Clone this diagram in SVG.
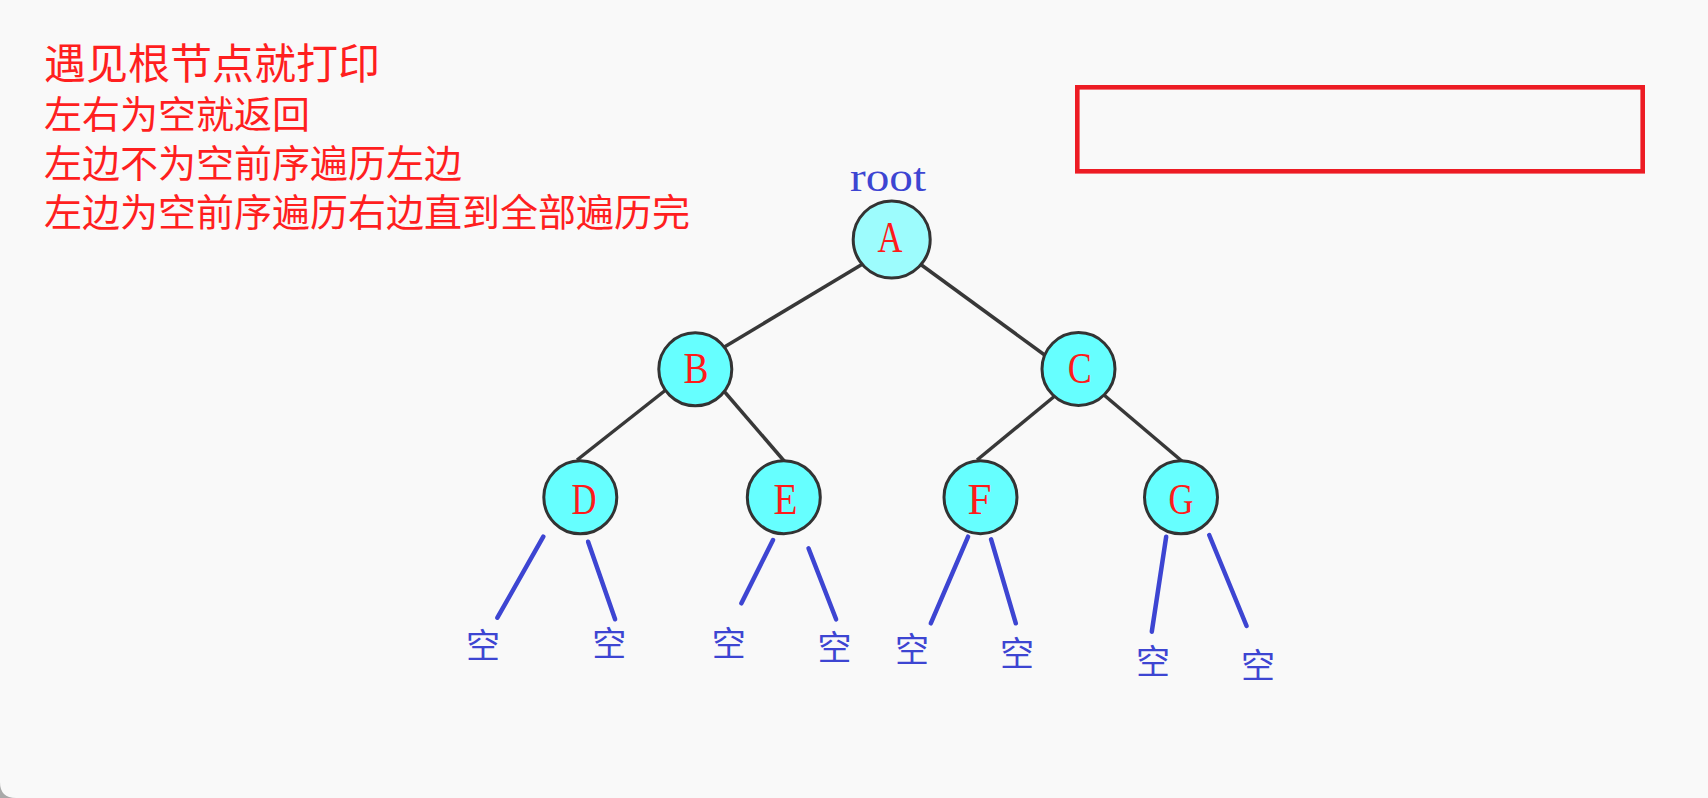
<svg xmlns="http://www.w3.org/2000/svg" width="1708" height="798" viewBox="0 0 1708 798">
<defs>
<style>
.note{font-family:"Noto Sans CJK SC","Noto Sans CJK JP",sans-serif;fill:#ff1f1f}
.nd{stroke:#333333;stroke-width:3}
.nd0{fill:#66ffff}
.nd1{fill:#9dfcfd}
.lbl{font-family:"Liberation Serif",serif;font-size:45px;fill:#ff1a1a;text-anchor:middle}
.edge{stroke:#383838;stroke-width:3.5;fill:none}
.null{stroke:#3d45d2;stroke-width:4.5;stroke-linecap:round;fill:none}
.kong{font-family:"Noto Sans CJK SC","Noto Sans CJK JP",sans-serif;font-size:34px;fill:#3d45d2;text-anchor:middle}
</style>
</defs>
<rect x="0" y="0" width="1708" height="798" fill="#a9a9a9"/>
<path d="M0 0 H1708 V798 H16 Q0 798 0 782 Z" fill="#f9f9f9"/>

<g id="notes">
<text class="note" x="44" y="79" font-size="42">遇见根节点就打印</text>
<text class="note" x="44" y="128" font-size="38">左右为空就返回</text>
<text class="note" x="44" y="177" font-size="38">左边不为空前序遍历左边</text>
<text class="note" x="44" y="226" font-size="38">左边为空前序遍历右边直到全部遍历完</text>
</g>

<g id="output-box">
<rect x="1077.3" y="87.3" width="565.4" height="84" fill="none" stroke="#ed1c24" stroke-width="4.6"/>
</g>

<g id="root-label">
<text x="888" y="190.5" font-family="'Liberation Serif',serif" font-size="40" fill="#3d45d2" text-anchor="middle" textLength="76" lengthAdjust="spacingAndGlyphs">root</text>
</g>

<g id="connectors">
<line class="edge" x1="866" y1="262" x2="721" y2="349"/>
<line class="edge" x1="916" y1="261" x2="1046" y2="356"/>
<line class="edge" x1="667" y1="389" x2="577" y2="460"/>
<line class="edge" x1="723" y1="390" x2="785" y2="462"/>
<line class="edge" x1="1056" y1="395" x2="977" y2="460"/>
<line class="edge" x1="1104" y1="395" x2="1183" y2="462"/>
<line class="null" x1="543.3" y1="536.7" x2="497.4" y2="617.7"/>
<line class="null" x1="588.1" y1="541.7" x2="615.1" y2="619.3"/>
<line class="null" x1="773" y1="540" x2="741.4" y2="603.3"/>
<line class="null" x1="808.5" y1="548.3" x2="836.1" y2="619.3"/>
<line class="null" x1="968.1" y1="536.7" x2="930.8" y2="623.3"/>
<line class="null" x1="991.1" y1="539.3" x2="1015.8" y2="623.3"/>
<line class="null" x1="1166.2" y1="536.7" x2="1151.8" y2="631.7"/>
<line class="null" x1="1209.2" y1="535" x2="1246.6" y2="626"/>
</g>

<g id="node-A">
<circle class="nd nd1" cx="891.7" cy="239.5" r="38.5"/>
<text class="lbl" x="890" y="252" textLength="25" lengthAdjust="spacingAndGlyphs">A</text>
</g>
<g id="node-B">
<circle class="nd nd0" cx="695.3" cy="369.3" r="36.5"/>
<text class="lbl" x="696" y="383" textLength="25" lengthAdjust="spacingAndGlyphs">B</text>
</g>
<g id="node-C">
<circle class="nd nd0" cx="1078.5" cy="369" r="36.5"/>
<text class="lbl" x="1079.7" y="383" textLength="24" lengthAdjust="spacingAndGlyphs">C</text>
</g>
<g id="node-D">
<circle class="nd nd0" cx="580.3" cy="497.3" r="36.5"/>
<text class="lbl" x="584" y="513.5" textLength="25" lengthAdjust="spacingAndGlyphs">D</text>
</g>
<g id="node-E">
<circle class="nd nd0" cx="783.8" cy="497.2" r="36.5"/>
<text class="lbl" x="785.5" y="513.5" textLength="24" lengthAdjust="spacingAndGlyphs">E</text>
</g>
<g id="node-F">
<circle class="nd nd0" cx="980.5" cy="497.2" r="36.5"/>
<text class="lbl" x="979.5" y="513.5" textLength="24" lengthAdjust="spacingAndGlyphs">F</text>
</g>
<g id="node-G">
<circle class="nd nd0" cx="1181" cy="497.3" r="36.5"/>
<text class="lbl" x="1181" y="513.5" textLength="25" lengthAdjust="spacingAndGlyphs">G</text>
</g>

<g id="null-D-left"><text class="kong" x="483" y="658">空</text></g>
<g id="null-D-right"><text class="kong" x="609.3" y="655.6">空</text></g>
<g id="null-E-left"><text class="kong" x="728.7" y="655.6">空</text></g>
<g id="null-E-right"><text class="kong" x="834.4" y="660">空</text></g>
<g id="null-F-left"><text class="kong" x="911.9" y="661.6">空</text></g>
<g id="null-F-right"><text class="kong" x="1017" y="665.6">空</text></g>
<g id="null-G-left"><text class="kong" x="1153" y="674">空</text></g>
<g id="null-G-right"><text class="kong" x="1258" y="678">空</text></g>
</svg>
